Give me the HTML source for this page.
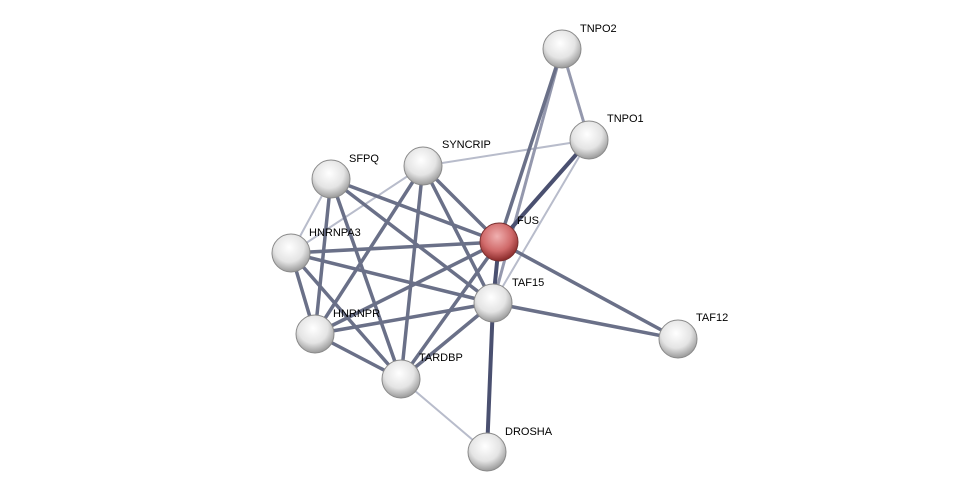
<!DOCTYPE html>
<html><head><meta charset="utf-8"><style>
html,body{margin:0;padding:0;background:#fff;}
svg{display:block;}
text{font-family:"Liberation Sans",sans-serif;font-size:11px;fill:#000;}
</style></head><body>
<svg width="976" height="498" viewBox="0 0 976 498" xmlns="http://www.w3.org/2000/svg">
<defs>
<radialGradient id="g" cx="45%" cy="35%" r="65%">
<stop offset="0" stop-color="#ffffff"/><stop offset="0.6" stop-color="#e4e4e4"/><stop offset="1" stop-color="#9a9a9a"/></radialGradient>
<radialGradient id="r" cx="45%" cy="35%" r="65%">
<stop offset="0" stop-color="#f0b0b0"/><stop offset="0.6" stop-color="#d06a6a"/><stop offset="1" stop-color="#8a2a2a"/></radialGradient>
</defs>
<g stroke-linecap="round">
<!-- light edges -->
<g stroke="#b8bccb" stroke-width="2">
<line x1="589" y1="140" x2="423" y2="166"/>
<line x1="589" y1="140" x2="493" y2="303"/>
<line x1="331" y1="179" x2="291" y2="253"/>
<line x1="423" y1="166" x2="291" y2="253"/>
<line x1="401" y1="379" x2="487" y2="452"/>
</g>
<g stroke="#9498ad" stroke-width="3">
<line x1="562" y1="49" x2="589" y2="140"/>
<line x1="562" y1="49" x2="493" y2="303"/>
</g>
<g stroke="#6a7088" stroke-width="3.5">
<line x1="562" y1="49" x2="499" y2="242"/>
<line x1="331" y1="179" x2="499" y2="242"/>
<line x1="331" y1="179" x2="493" y2="303"/>
<line x1="331" y1="179" x2="315" y2="334"/>
<line x1="331" y1="179" x2="401" y2="379"/>
<line x1="423" y1="166" x2="499" y2="242"/>
<line x1="423" y1="166" x2="493" y2="303"/>
<line x1="423" y1="166" x2="315" y2="334"/>
<line x1="423" y1="166" x2="401" y2="379"/>
<line x1="291" y1="253" x2="499" y2="242"/>
<line x1="291" y1="253" x2="493" y2="303"/>
<line x1="291" y1="253" x2="315" y2="334"/>
<line x1="291" y1="253" x2="401" y2="379"/>
<line x1="315" y1="334" x2="499" y2="242"/>
<line x1="315" y1="334" x2="493" y2="303"/>
<line x1="315" y1="334" x2="401" y2="379"/>
<line x1="401" y1="379" x2="499" y2="242"/>
<line x1="401" y1="379" x2="493" y2="303"/>
<line x1="499" y1="242" x2="678" y2="339"/>
<line x1="493" y1="303" x2="678" y2="339"/>
</g>
<g stroke="#4a5070" stroke-width="4">
<line x1="589" y1="140" x2="499" y2="242"/>
<line x1="499" y1="242" x2="493" y2="303"/>
<line x1="493" y1="303" x2="487" y2="452"/>
</g>
</g>
<g stroke="#8a8a8a" stroke-width="1">
<circle cx="562" cy="49" r="19" fill="url(#g)"/>
<circle cx="589" cy="140" r="19" fill="url(#g)"/>
<circle cx="423" cy="166" r="19" fill="url(#g)"/>
<circle cx="331" cy="179" r="19" fill="url(#g)"/>
<circle cx="291" cy="253" r="19" fill="url(#g)"/>
<circle cx="493" cy="303" r="19" fill="url(#g)"/>
<circle cx="315" cy="334" r="19" fill="url(#g)"/>
<circle cx="678" cy="339" r="19" fill="url(#g)"/>
<circle cx="401" cy="379" r="19" fill="url(#g)"/>
<circle cx="487" cy="452" r="19" fill="url(#g)"/>
<circle cx="499" cy="242" r="19" fill="url(#r)" stroke="#7a3030"/>
</g>
<text x="580" y="32">TNPO2</text>
<text x="607" y="122">TNPO1</text>
<text x="442" y="148">SYNCRIP</text>
<text x="349" y="162">SFPQ</text>
<text x="517" y="224">FUS</text>
<text x="309" y="236">HNRNPA3</text>
<text x="512" y="286">TAF15</text>
<text x="333" y="317">HNRNPR</text>
<text x="696" y="321">TAF12</text>
<text x="419" y="361">TARDBP</text>
<text x="505" y="435">DROSHA</text>
</svg>
</body></html>
